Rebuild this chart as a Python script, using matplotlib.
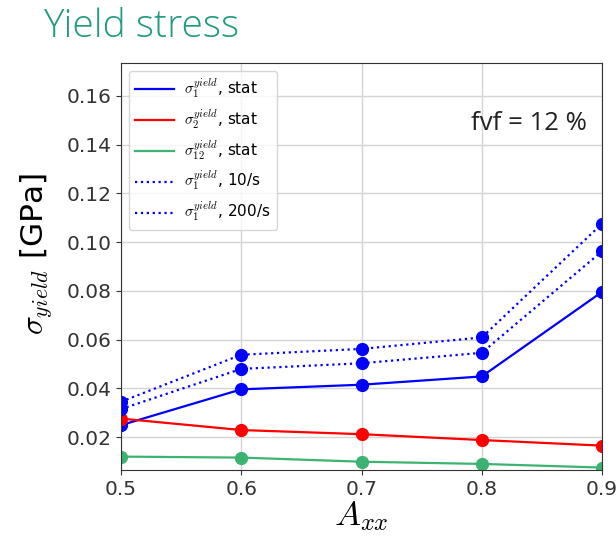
import matplotlib.pyplot as plt
from matplotlib.lines import Line2D

plt.rcParams["mathtext.fontset"] = "cm"

a_xx = [0.5, 0.6, 0.7, 0.8, 0.9]
s1_stat = [0.0249, 0.0396, 0.0415, 0.0449, 0.0796]
s2_stat = [0.0276, 0.0229, 0.0212, 0.0188, 0.0165]
s12_stat = [0.0120, 0.0116, 0.0099, 0.0090, 0.0075]
s1_10 = [0.0315, 0.0480, 0.0503, 0.0546, 0.0963]
s1_200 = [0.0345, 0.0538, 0.0562, 0.0609, 0.1076]

series = [
    (s1_stat, "blue", "-", r"$\sigma_1^{yield}$, stat"),
    (s2_stat, "red", "-", r"$\sigma_2^{yield}$, stat"),
    (s12_stat, "mediumseagreen", "-", r"$\sigma_{12}^{yield}$, stat"),
    (s1_10, "blue", ":", r"$\sigma_1^{yield}$, 10/s"),
    (s1_200, "blue", ":", r"$\sigma_1^{yield}$, 200/s"),
]

fig = plt.figure(figsize=(6.16, 5.39), dpi=100)
ax = fig.add_axes([0.1964, 0.128, 0.781, 0.755])

handles = []
for vals, col, ls, lab in series:
    ax.plot(a_xx, vals, color=col, linestyle=ls, marker="o", markersize=8.5, linewidth=1.6)
    handles.append(Line2D([], [], color=col, linestyle=ls, linewidth=1.6, label=lab))

ax.set_xlim(0.5, 0.9)
ax.set_ylim(0.0065, 0.1735)
ax.set_xticks([0.5, 0.6, 0.7, 0.8, 0.9])
ax.set_yticks([0.02, 0.04, 0.06, 0.08, 0.10, 0.12, 0.14, 0.16])
ax.tick_params(labelsize=14.5, colors="#333333", labelcolor="#333333")
ax.grid(color="#d4d4d4", linewidth=1.0)
for sp in ax.spines.values():
    sp.set_color("#333333")

ax.set_xlabel(r"$A_{xx}$", fontsize=25, labelpad=0)
ax.set_ylabel(r"$\sigma_{yield}$ [GPa]", fontsize=22.5)
ax.yaxis.set_label_coords(-0.137, 0.53)

ax.legend(handles=handles, loc="upper left", fontsize=11, handlelength=2.55,
          handletextpad=0.7, labelspacing=0.45)

ax.text(0.969, 0.835, "fvf = 12 %", transform=ax.transAxes, ha="right",
        va="baseline", fontsize=18.5, family="Open Sans", color="#222222")

fig.text(0.07, 0.931, "Yield stress", fontsize=28, family="Open Sans",
         fontweight="light", color="#1f9b7e", ha="left", va="baseline")

fig.savefig("out.png", dpi=100)
